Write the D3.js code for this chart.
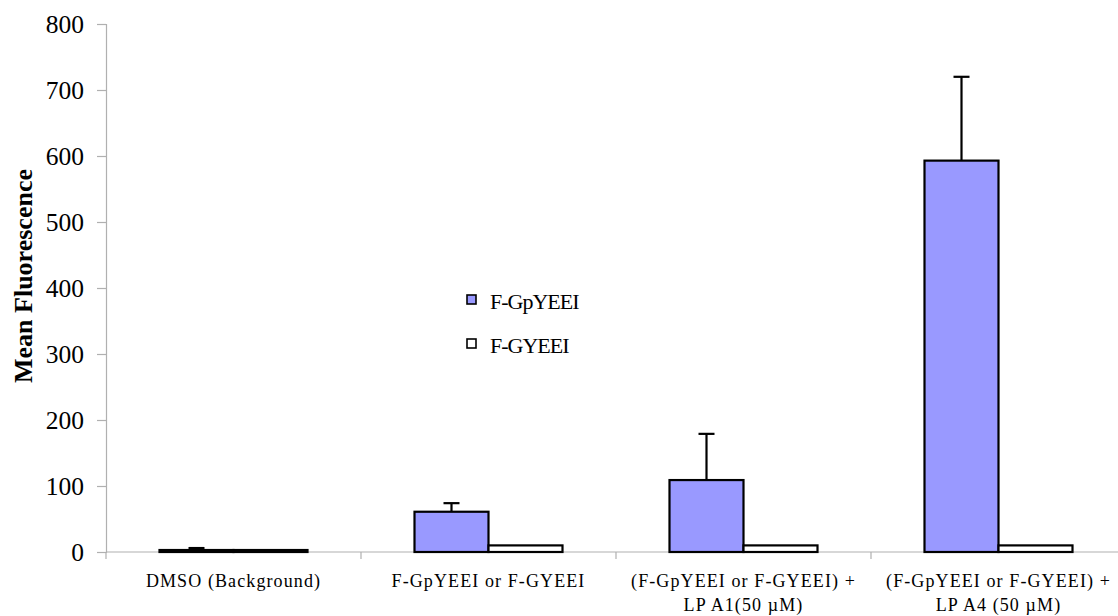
<!DOCTYPE html>
<html>
<head>
<meta charset="utf-8">
<script src="https://cdn.jsdelivr.net/npm/d3@7"></script>
<style>
html,body{margin:0;padding:0;background:#fff;}
svg{display:block;}
text{font-family:"Liberation Serif","Times New Roman",serif;fill:#000;}
</style>
</head>
<body>
<svg id="chart" width="1118" height="616"></svg>
<script>
const categories = [
  ["DMSO (Background)"],
  ["F-GpYEEI or F-GYEEI"],
  ["(F-GpYEEI or F-GYEEI) +", "LP A1(50 \u00b5M)"],
  ["(F-GpYEEI or F-GYEEI) +", "LP A4 (50 \u00b5M)"]
];
const seriesNames = ["F-GpYEEI", "F-GYEEI"];
const seriesColors = ["#9999FF", "#FFFFFF"];
const gpValues = [3, 61, 109, 593];
const gValues = [3, 10, 10, 10];
const gpErrorTop = [6, 74, 179, 720];
const yTicks = [0, 100, 200, 300, 400, 500, 600, 700, 800];

const svg = d3.select("#chart");
const mLeft = 106, mRight = 1126, mTop = 24, mBottom = 552;

const catKeys = categories.map((c, i) => i);
const x0 = d3.scaleBand().domain(catKeys).range([mLeft, mRight]).paddingInner(0).paddingOuter(0);
const groupW = 148;
const x1 = d3.scaleBand().domain(seriesNames).range([0, groupW]);
const y = d3.scaleLinear().domain([0, 800]).range([mBottom, mTop]);

// y axis
const yAxis = d3.axisLeft(y).tickValues(yTicks).tickSize(9).tickPadding(13).tickFormat(d3.format("d"));
const gy = svg.append("g").attr("transform", `translate(${mLeft},0)`).call(yAxis);
gy.select(".domain").attr("stroke", "#b0b0b0").attr("stroke-width", 1.2);
gy.selectAll(".tick line").attr("stroke", "#b0b0b0").attr("stroke-width", 1.2);
gy.selectAll(".tick text").attr("font-size", 25.5).attr("font-family", "Liberation Serif");

// x axis
const gx = svg.append("g").attr("transform", `translate(0,${mBottom})`);
gx.append("line").attr("x1", mLeft).attr("x2", 1118).attr("y1", 0).attr("y2", 0)
  .attr("stroke", "#b0b0b0").attr("stroke-width", 1.2);
gx.selectAll("line.tk").data(catKeys).enter().append("line").attr("class", "tk")
  .attr("x1", d => x0(d)).attr("x2", d => x0(d)).attr("y1", 0).attr("y2", 7)
  .attr("stroke", "#b0b0b0").attr("stroke-width", 1.2);

// x labels
const lbl = svg.append("g");
categories.forEach((lines, i) => {
  const cx = x0(i) + x0.bandwidth() / 2;
  lines.forEach((t, j) => {
    lbl.append("text").attr("x", cx).attr("y", 587 + j * 24)
      .attr("text-anchor", "middle").attr("font-size", 18)
      .attr("letter-spacing", "1.1px").text(t);
  });
});

// bars
const data = catKeys.map(i => ({ i, vals: [gpValues[i], gValues[i]] }));
const groups = svg.append("g").selectAll("g").data(data).enter().append("g")
  .attr("transform", d => `translate(${x0(d.i) + (x0.bandwidth() - groupW) / 2},0)`);
groups.selectAll("rect").data(d => d.vals.map((v, k) => ({ v, k }))).enter().append("rect")
  .attr("x", d => x1(seriesNames[d.k]))
  .attr("width", x1.bandwidth())
  .attr("y", d => y(d.v))
  .attr("height", d => y(0) - y(d.v))
  .attr("fill", d => seriesColors[d.k])
  .attr("stroke", "#000").attr("stroke-width", 2.2);

// error bars (F-GpYEEI)
groups.each(function(d) {
  const g = d3.select(this);
  const cx = x1(seriesNames[0]) + x1.bandwidth() / 2;
  const yTop = y(gpErrorTop[d.i]);
  g.append("line").attr("x1", cx).attr("x2", cx).attr("y1", y(gpValues[d.i])).attr("y2", yTop)
    .attr("stroke", "#000").attr("stroke-width", 2.2);
  g.append("line").attr("x1", cx - 8).attr("x2", cx + 8).attr("y1", yTop).attr("y2", yTop)
    .attr("stroke", "#000").attr("stroke-width", 2.2);
});

// legend
const leg = svg.append("g");
seriesNames.forEach((s, k) => {
  const yy = 300 + k * 44;
  leg.append("rect").attr("x", 467).attr("y", yy - 5).attr("width", 9).attr("height", 9)
    .attr("fill", seriesColors[k]).attr("stroke", "#000").attr("stroke-width", 1.6);
  leg.append("text").attr("x", 490).attr("y", yy + 9).attr("font-size", 22)
    .attr("letter-spacing", "-1px").text(s);
});

// y label
svg.append("text").attr("transform", "translate(32,276) rotate(-90)")
  .attr("text-anchor", "middle").attr("font-size", 26).attr("font-weight", "bold")
  .text("Mean Fluorescence");
</script>
</body>
</html>
